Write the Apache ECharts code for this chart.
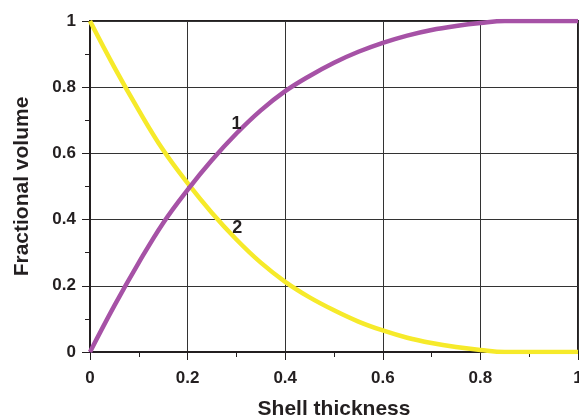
<!DOCTYPE html>
<html>
<head>
<meta charset="utf-8">
<script src="https://cdn.jsdelivr.net/npm/echarts@6/dist/echarts.min.js"></script>
<style>
  html, body { margin: 0; padding: 0; background: #fff; }
  #chart { width: 579px; height: 420px; }
</style>
</head>
<body>
<div id="chart"></div>
<script>
// shell thickness (x) and fractional volumes
const thickness = [0, 0.05, 0.1, 0.15, 0.2, 0.25, 0.3, 0.35, 0.4, 0.45, 0.5,
  0.55, 0.6, 0.65, 0.7, 0.75, 0.8, 0.85, 0.9, 0.95, 1]
const curve1 = [0, 0.14, 0.27, 0.39, 0.49, 0.58, 0.66, 0.73, 0.788, 0.834, 0.874,
  0.907, 0.934, 0.956, 0.973, 0.985, 0.994, 1, 1, 1, 1]
const curve2 = [1, 0.86, 0.73, 0.61, 0.51, 0.42, 0.34, 0.27, 0.212, 0.165, 0.126,
  0.092, 0.065, 0.043, 0.027, 0.015, 0.006, 0, 0, 0, 0]
const ticks = [0, 0.2, 0.4, 0.6, 0.8, 1]
// where the curve numbers sit
const label1 = [0.3, 0.69]
const label2 = [0.302, 0.376]

const font = { fontFamily: 'Liberation Sans, Arial, sans-serif', fontWeight: 'bold', color: '#231f20' }

const pairs = ys => thickness.map((x, i) => [x, ys[i]])

const axisCommon = {
  type: 'value',
  min: 0,
  max: 1,
  interval: 0.2,
  axisLine: { show: true, lineStyle: { color: '#231f20', width: 2 } },
  axisTick: { show: true, inside: false, length: 8, lineStyle: { color: '#231f20', width: 1 } },
  minorTick: { show: true, splitNumber: 2, length: 5, lineStyle: { color: '#231f20', width: 1 } },
  splitLine: { show: true, lineStyle: { color: '#333', width: 1 } },
  axisLabel: {
    ...font,
    fontSize: 17,
    formatter: v => (ticks.includes(Math.round(v * 10) / 10) ? String(Math.round(v * 10) / 10) : '')
  },
  nameLocation: 'middle',
  nameTextStyle: { ...font, fontSize: 21 }
}

const numberLabel = (text, coord) => ({
  symbol: 'rect',
  symbolSize: 1,
  itemStyle: { color: 'rgba(0,0,0,0)' },
  label: { show: true, position: 'inside', ...font, fontSize: 18, formatter: text },
  data: [{ coord }]
})

const chart = echarts.init(document.getElementById('chart'), null, { renderer: 'canvas' })
chart.setOption({
  animation: false,
  grid: {
    left: 90, right: 1, top: 21, bottom: 68,
    outerBoundsMode: 'none',
    show: true, borderColor: '#231f20', borderWidth: 2, backgroundColor: 'transparent'
  },
  xAxis: { ...axisCommon, name: 'Shell thickness', nameGap: 47,
    axisLabel: { ...axisCommon.axisLabel, margin: 18 } },
  yAxis: { ...axisCommon, name: 'Fractional volume', nameGap: 57,
    axisLabel: { ...axisCommon.axisLabel, margin: 14 } },
  series: [
    {
      type: 'line',
      data: pairs(curve1),
      smooth: 0.4,
      showSymbol: false,
      lineStyle: { color: '#a652a6', width: 4.5 },
      markPoint: numberLabel('1', label1),
      z: 3
    },
    {
      type: 'line',
      data: pairs(curve2),
      smooth: 0.4,
      showSymbol: false,
      lineStyle: { color: '#f6ea2a', width: 4.5 },
      markPoint: numberLabel('2', label2),
      z: 2
    }
  ]
})
</script>
</body>
</html>
